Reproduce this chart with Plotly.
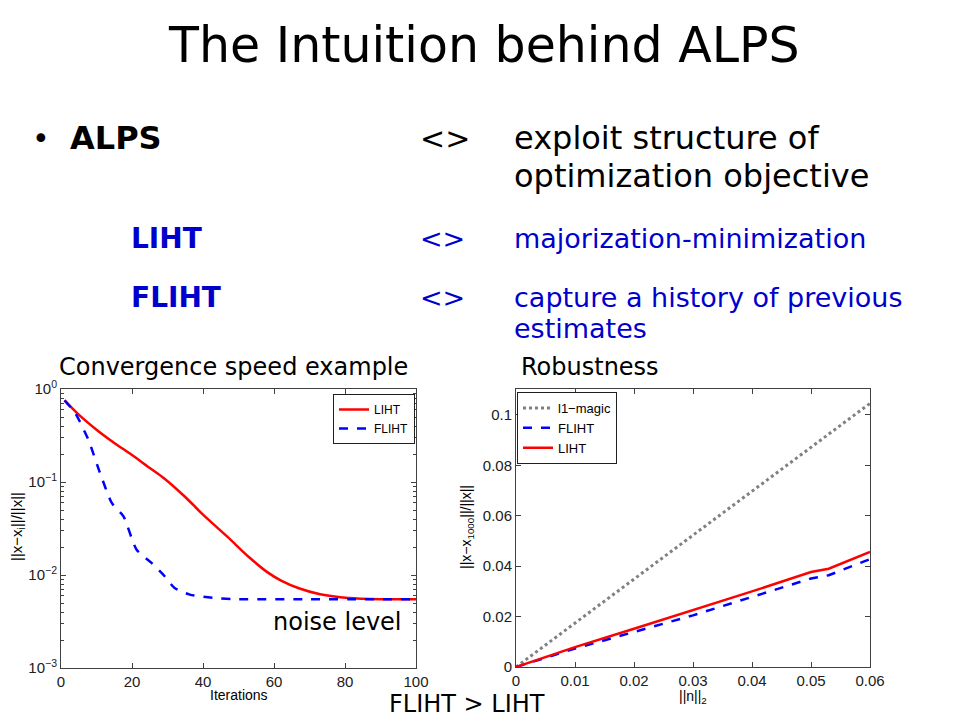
import plotly.graph_objects as go

# ---- data: convergence speed (left) ----
iter_liht = [1, 5, 10, 15, 20, 25, 29, 35, 40, 47, 53, 58, 62, 67, 73, 81, 90, 100]
err_liht = [0.755, 0.53, 0.365, 0.263, 0.195, 0.1415, 0.110, 0.069, 0.0445, 0.0255, 0.0155,
            0.0108, 0.0087, 0.0072, 0.0062, 0.00566, 0.0055, 0.0055]
iter_fliht = [1, 4, 7.7, 11, 14.3, 17.6, 21.3, 25.5, 28.8, 32, 36.3, 43, 48.5, 70, 100]
err_fliht = [0.755, 0.552, 0.285, 0.125, 0.0595, 0.0428, 0.0187, 0.0135, 0.0101, 0.00725, 0.00615,
             0.00566, 0.0055, 0.0055, 0.0055]

# ---- data: robustness (right) ----
noise = [0, 0.01, 0.02, 0.03, 0.04, 0.05, 0.053, 0.06]
err_l1magic = [0, 0.0174, 0.0349, 0.0523, 0.0697, 0.0872, 0.0924, 0.1046]
err_fliht_r = [0, 0.0073, 0.0139, 0.0205, 0.0278, 0.0351, 0.0364, 0.0428]
err_liht_r = [0, 0.0079, 0.0152, 0.0225, 0.0300, 0.0377, 0.0390, 0.0457]

y_minor = [m * 10.0 ** e for e in (-3, -2, -1) for m in range(2, 10)]

# page body adds an 8px margin; figure is sized to fit the 960x720 window
OFF = 8
W, H = 960 - OFF, 720 - OFF
BLUE = "#0000CC"
TXT = "DejaVu Sans, Verdana, sans-serif"
AX = "Liberation Sans, Arial, sans-serif"

def px(x):
    return (x - OFF) / W

def py(y):
    return 1 - (y - OFF) / H

fig = go.Figure()

fig.add_trace(go.Scatter(x=iter_liht, y=err_liht, mode="lines", name="LIHT",
                         line=dict(color="#FF0000", width=2.5, shape="spline", smoothing=0.8),
                         xaxis="x", yaxis="y", legend="legend"))
fig.add_trace(go.Scatter(x=iter_fliht, y=err_fliht, mode="lines", name="FLIHT",
                         line=dict(color="#0000FF", width=2.5, dash="dash", shape="spline", smoothing=0.6),
                         xaxis="x", yaxis="y", legend="legend"))

fig.add_trace(go.Scatter(x=noise, y=err_l1magic, mode="lines", name="l1\u2212magic",
                         line=dict(color="#808080", width=3, dash="dot"),
                         xaxis="x2", yaxis="y2", legend="legend2"))
fig.add_trace(go.Scatter(x=noise, y=err_fliht_r, mode="lines", name="FLIHT",
                         line=dict(color="#0000FF", width=2.5, dash="dash"),
                         xaxis="x2", yaxis="y2", legend="legend2"))
fig.add_trace(go.Scatter(x=noise, y=err_liht_r, mode="lines", name="LIHT",
                         line=dict(color="#FF0000", width=2.5),
                         xaxis="x2", yaxis="y2", legend="legend2"))

axcommon = dict(showline=True, linecolor="#404040", linewidth=1, mirror="ticks",
                ticks="inside", ticklen=5, tickcolor="#404040", showgrid=False,
                zeroline=False, automargin=False,
                tickfont=dict(family=AX, size=15, color="#202020"))

fig.update_layout(
    width=W, height=H, margin=dict(l=0, r=0, t=0, b=0, autoexpand=False),
    paper_bgcolor="white", plot_bgcolor="white",
    xaxis=dict(domain=[px(61), px(416)], range=[0, 100], tickvals=[0, 20, 40, 60, 80, 100],
               anchor="y", **axcommon),
    yaxis=dict(domain=[py(668), py(389)], type="log", range=[-3, 0],
               tickvals=[1e-3, 1e-2, 1e-1, 1],
               ticktext=["10<sup>\u22123</sup>", "10<sup>\u22122</sup>", "10<sup>\u22121</sup>", "10<sup>0</sup>"],
               minor=dict(ticks="inside", ticklen=3, tickcolor="#404040", tickvals=y_minor),
               anchor="x", **axcommon),
    xaxis2=dict(domain=[px(516), px(870)], range=[0, 0.06],
                tickvals=[0, 0.01, 0.02, 0.03, 0.04, 0.05, 0.06],
                ticktext=["0", "0.01", "0.02", "0.03", "0.04", "0.05", "0.06"],
                anchor="y2", **axcommon),
    yaxis2=dict(domain=[py(667), py(389)], range=[0, 0.1103],
                tickvals=[0, 0.02, 0.04, 0.06, 0.08, 0.1],
                ticktext=["0", "0.02", "0.04", "0.06", "0.08", "0.1"],
                anchor="x2", **axcommon),
    legend=dict(x=px(415), y=py(394), xanchor="right", yanchor="top",
                bgcolor="white", bordercolor="#202020", borderwidth=1,
                font=dict(family=AX, size=12, color="black"),
                tracegroupgap=0, itemwidth=30),
    legend2=dict(x=px(517), y=py(392), xanchor="left", yanchor="top",
                 bgcolor="white", bordercolor="#202020", borderwidth=1,
                 font=dict(family=AX, size=13, color="black"),
                 tracegroupgap=0, itemwidth=30),
    showlegend=True,
)

anns = []

def txt(x, y, s, size, color="black", bold=False, anchor="left", family=TXT, angle=0):
    if bold:
        s = "<b>" + s + "</b>"
    anns.append(dict(x=px(x), y=py(y), xref="paper", yref="paper", text=s, showarrow=False,
                     xanchor=anchor, yanchor="middle", textangle=angle,
                     font=dict(family=family, size=size, color=color)))

txt(484, 46, "The Intuition behind ALPS", 49, anchor="center")
txt(30, 138, "\u2022", 30)
txt(68, 138, "ALPS", 32, bold=True)
txt(418, 138, "&lt;&gt;", 30)
txt(512, 138, "exploit structure of", 32)
txt(512, 176, "optimization objective", 32)
txt(129, 238, "LIHT", 28, color=BLUE, bold=True)
txt(418, 238, "&lt;&gt;", 27, color=BLUE)
txt(512, 238, "majorization-minimization", 27, color=BLUE)
txt(129, 297, "FLIHT", 28, color=BLUE, bold=True)
txt(418, 297, "&lt;&gt;", 27, color=BLUE)
txt(512, 297, "capture a history of previous", 27, color=BLUE)
txt(512, 328, "estimates", 27, color=BLUE)
txt(57, 367, "Convergence speed example", 24)
txt(519, 367, "Robustness", 24)
txt(404, 622, "noise level", 24, anchor="right")
txt(467, 704, "FLIHT &gt; LIHT", 24, anchor="center")
txt(239, 695, "Iterations", 14, family=AX, anchor="center")
txt(693, 697, "||n||<sub>2</sub>", 14, family=AX, anchor="center")
txt(17, 527, "||x\u2212x<sub>i</sub>||/||x||", 15, family=AX, anchor="center", angle=-90)
txt(467, 527, "||x\u2212x<sub>1000</sub>||/||x||", 14, family=AX, anchor="center", angle=-90)

fig.update_layout(annotations=anns)
fig.write_html("out.html")
